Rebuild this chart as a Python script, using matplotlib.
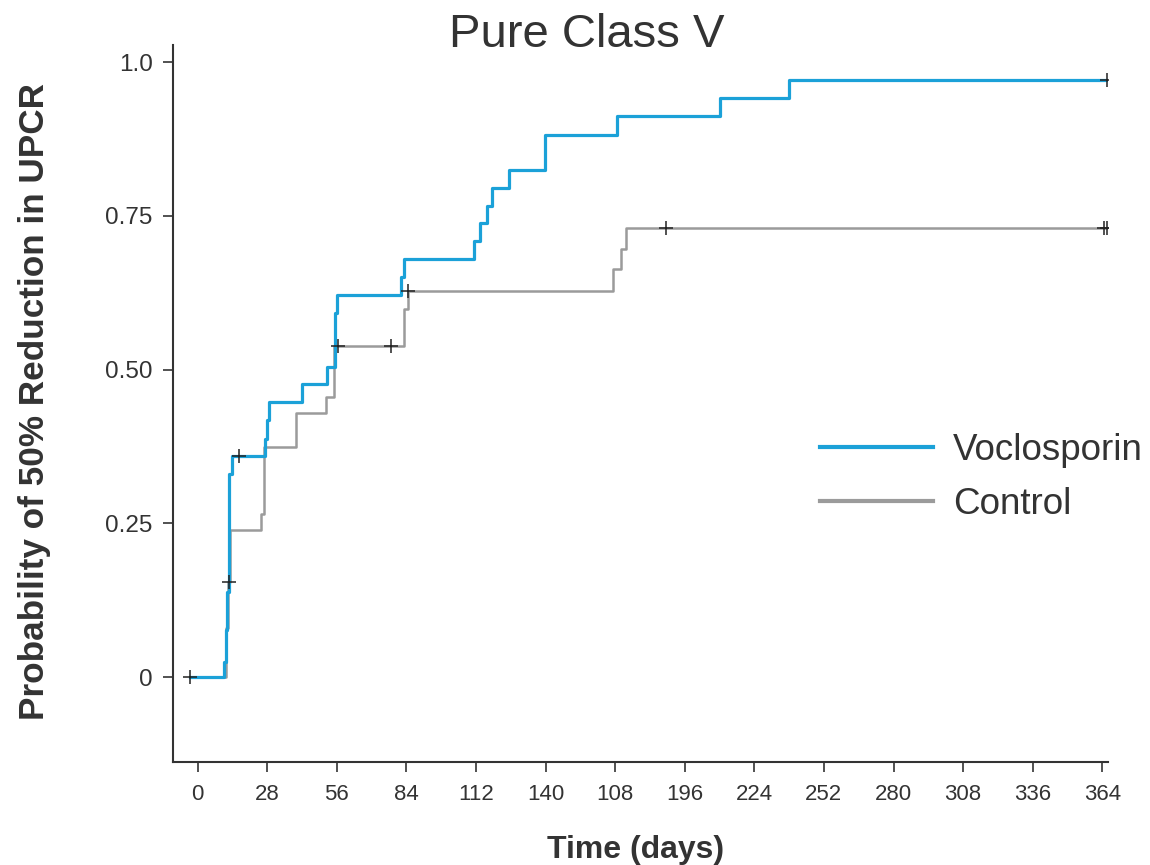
import matplotlib
matplotlib.use("Agg")
import matplotlib.pyplot as plt
from matplotlib.lines import Line2D

plt.rcParams['font.family'] = ['Liberation Sans', 'DejaVu Sans']

# ---------------- data ----------------
voc_t = [-3, 10.8, 11.5, 12.0, 12.8, 13.7, 27.0, 27.8, 28.8, 42.0, 52.0, 55.3, 56.2,
         82.0, 83.2, 111.2, 113.6, 116.3, 118.3, 125.4, 139.8, 168.7, 210.2, 237.9, 366]
voc_s = [0, 0.025, 0.076, 0.138, 0.330, 0.359, 0.388, 0.418, 0.447, 0.476, 0.505, 0.592, 0.621,
         0.651, 0.680, 0.709, 0.738, 0.766, 0.796, 0.824, 0.882, 0.912, 0.941, 0.971, 0.971]
voc_cens_t = [-3, 16.7, 366]
voc_cens_s = [0, 0.359, 0.971]

ctl_t = [-3, 11.5, 12.3, 13.2, 25.5, 26.9, 39.6, 51.7, 54.9, 83.0, 84.8, 167.3, 170.4, 172.4, 366]
ctl_s = [0, 0.08, 0.155, 0.239, 0.266, 0.374, 0.429, 0.456, 0.538, 0.598, 0.628, 0.663, 0.697, 0.731, 0.731]
ctl_cens_t = [12.7, 56.6, 77.8, 84.8, 188.5, 364.7, 366]
ctl_cens_s = [0.155, 0.538, 0.538, 0.628, 0.731, 0.731, 0.731]

x_ticks = [0, 28, 56, 84, 112, 140, 168, 196, 224, 252, 280, 308, 336, 364]
x_ticklabels = ['0', '28', '56', '84', '112', '140', '108', '196', '224', '252', '280', '308', '336', '364']
y_ticks = [0, 0.25, 0.5, 0.75, 1.0]
y_ticklabels = ['0', '0.25', '0.50', '0.75', '1.0']

series_names = ['Voclosporin', 'Control']
blue = '#1ba1d8'
grey = '#9b9b9b'
dark = '#333333'

# ---------------- figure ----------------
W, H = 1150, 865
fig = plt.figure(figsize=(W / 100, H / 100), dpi=100)
ax = fig.add_axes([173 / W, 1 - 762 / H, (1108 - 173) / W, (762 - 45) / H])

ax.step(ctl_t, ctl_s, where='post', color=grey, lw=1.8, zorder=2)
ax.step(voc_t, voc_s, where='post', color=blue, lw=2.3, zorder=3)
ax.plot(ctl_cens_t, ctl_cens_s, ls='none', marker='+', ms=10, mew=1.1, color='#222222', zorder=4)
ax.plot(voc_cens_t, voc_cens_s, ls='none', marker='+', ms=10, mew=1.1, color='#222222', zorder=4)

ax.set_xlim(-9.9, 366.3)
ax.set_ylim(-0.138, 1.028)
ax.set_xticks(x_ticks)
ax.set_xticklabels(x_ticklabels)
ax.set_yticks(y_ticks)
ax.set_yticklabels(y_ticklabels)

for s in ['top', 'right']:
    ax.spines[s].set_visible(False)
for s in ['left', 'bottom']:
    ax.spines[s].set_linewidth(1.5)
    ax.spines[s].set_color(dark)

ax.tick_params(axis='both', direction='out', length=7.5, width=1.2, color=dark,
               labelcolor=dark)
ax.tick_params(axis='y', pad=7, labelsize=17.5)
ax.tick_params(axis='x', pad=8, labelsize=16)

# titles / labels
fig.text(586.5 / W, 1 - 46.7 / H, 'Pure Class V', ha='center', va='baseline',
         fontsize=34, color=dark)
fig.text(635.5 / W, 1 - 858 / H, 'Time (days)', ha='center', va='baseline',
         fontsize=23, fontweight='bold', color=dark)
fig.text(35 / W, 1 - 402 / H, 'Probability of 50% Reduction in UPCR', ha='center', va='center',
         rotation=90, fontsize=25.3, fontweight='bold', color=dark)

handles = [Line2D([], [], color=blue, lw=3.0), Line2D([], [], color=grey, lw=3.0)]
ax.legend(handles, series_names, loc='upper left',
          bbox_to_anchor=(820 / W, 1 - 433.2 / H), bbox_transform=fig.transFigure,
          frameon=False, fontsize=26.5, handlelength=3.07, handletextpad=0.54,
          labelspacing=0.5, borderpad=0, borderaxespad=0, labelcolor=dark)

fig.savefig('out.png', dpi=100)
